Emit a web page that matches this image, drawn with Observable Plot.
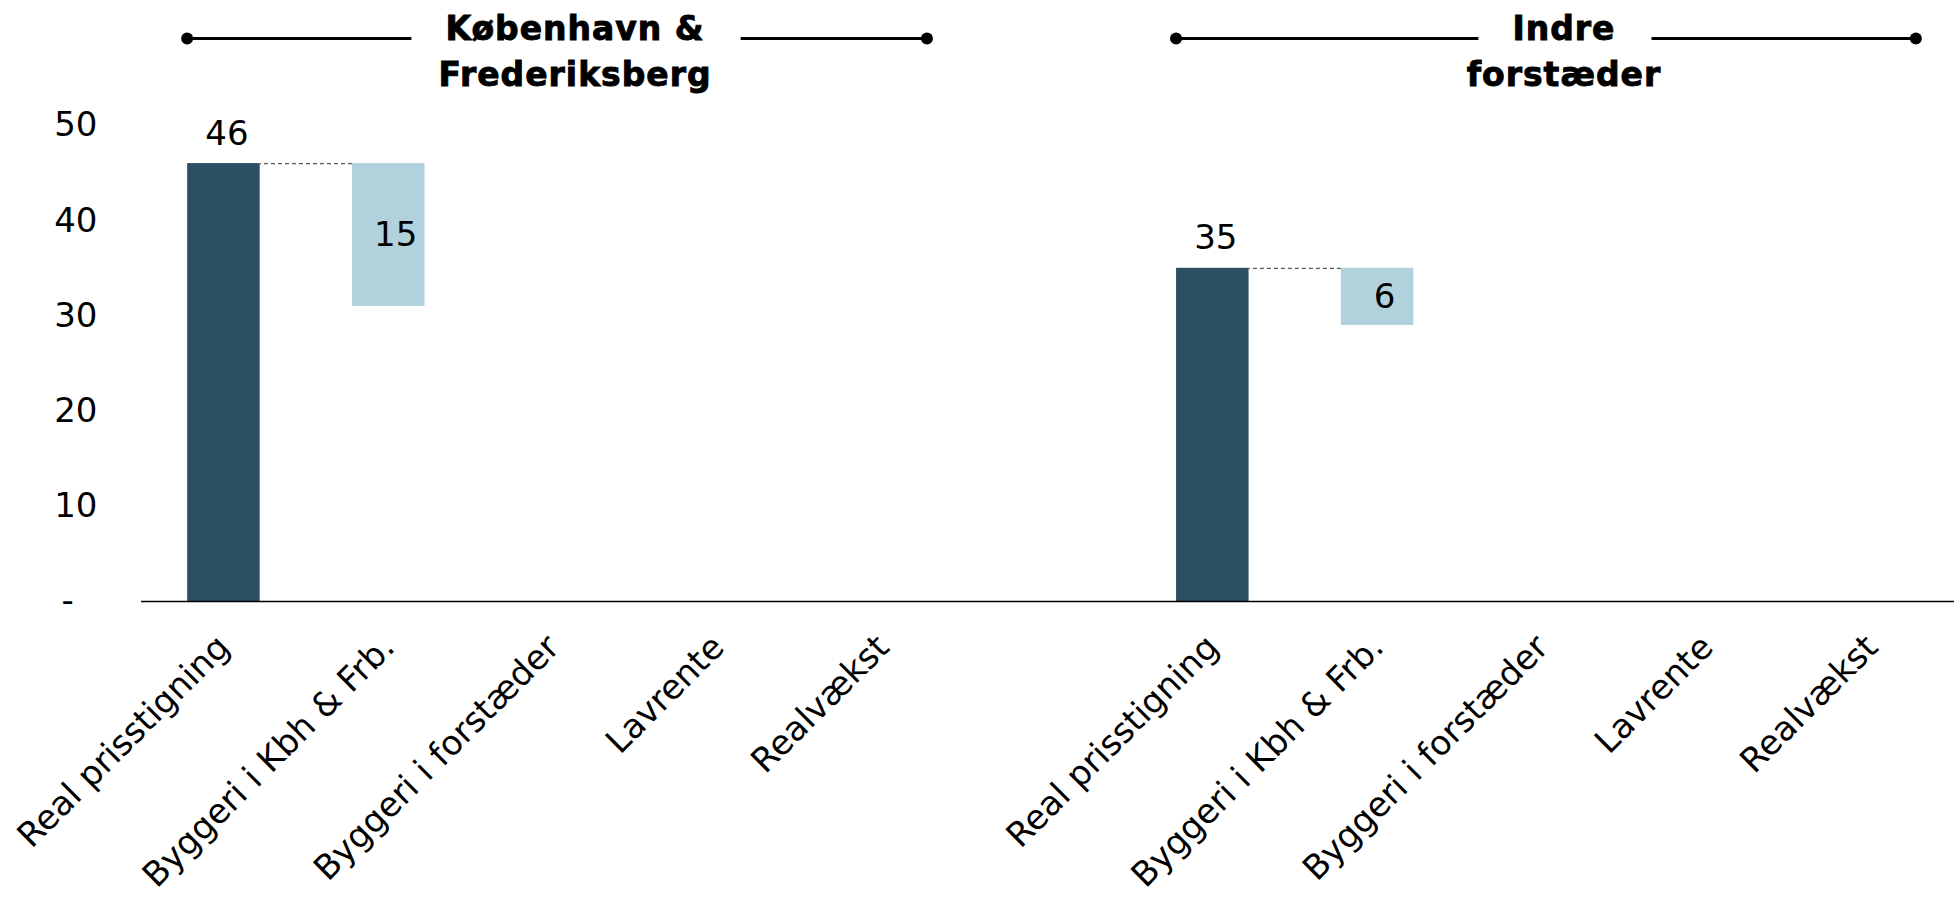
<!DOCTYPE html>
<html>
<head>
<meta charset="utf-8">
<script src="https://cdn.jsdelivr.net/npm/d3@7"></script>
<script src="https://cdn.jsdelivr.net/npm/@observablehq/plot@0.6"></script>
<style>
  html, body { margin: 0; padding: 0; background: #fff; }
  #chart svg { display: block; }
</style>
</head>
<body>
<div id="chart"></div>
<script>
// ---- Data ----
const groups = ["København &\nFrederiksberg", "Indre\nforstæder"];
const categories = ["Real prisstigning", "Byggeri i Kbh & Frb.", "Byggeri i forstæder", "Lavrente", "Realvækst"];
const kbhValues = [46, -15, null, null, null];
const indreValues = [35, -6, null, null, null];
const yTicks = [0, 10, 20, 30, 40, 50];

// ---- Build waterfall table ----
const DARK = "#2c4f64";
const LIGHT = "#b1d1dc";
const series = [kbhValues, indreValues];
const SPACER = "spacer";
const key = (gi, c) => `${gi}|${c}`;
const domain = [];
groups.forEach((g, gi) => {
  if (gi > 0) domain.push(SPACER + gi);
  categories.forEach(c => domain.push(key(gi, c)));
});

const rows = [];
const connectors = [];
series.forEach((vals, gi) => {
  let total = 0;
  let prev = null;
  vals.forEach((v, ci) => {
    if (v == null) return;
    const k = key(gi, categories[ci]);
    const isTotal = ci === 0;
    if (prev) connectors.push({from: prev, to: k, y: total});
    const y1 = isTotal ? 0 : total;
    const y2 = isTotal ? v : total + v;
    rows.push({key: k, y1, y2, type: isTotal ? "total" : "change", label: String(Math.abs(v))});
    total = isTotal ? v : total + v;
    prev = k;
  });
});

const FONT = "DejaVu Sans";

const chart = Plot.plot({
  width: 1954,
  height: 898,
  marginTop: 125,
  marginBottom: 297,
  marginLeft: 141,
  marginRight: 0,
  style: {fontFamily: FONT, fontSize: "34px", color: "#000", background: "#fff", overflow: "visible"},
  x: {domain, paddingInner: 0.56, paddingOuter: 0.28, round: false, label: null},
  y: {domain: [0, 50], label: null},
  color: {domain: ["total", "change"], range: [DARK, LIGHT]},
  marks: [
    Plot.barY(rows, {x: "key", y1: "y1", y2: "y2", fill: "type"}),
    Plot.ruleY(connectors, {y: "y", x1: "to", x2: "from", stroke: "#555", strokeWidth: 1.2, strokeDasharray: "4,3"}),
    Plot.text(rows.filter(d => d.type === "total"), {x: "key", y: "y2", text: "label", lineAnchor: "bottom", dy: -19, dx: 3, fontSize: 34, fill: "#000"}),
    Plot.text(rows.filter(d => d.type === "change"), {x: "key", y: d => (d.y1 + d.y2) / 2, text: "label", dx: 7, fontSize: 34, fill: "#000"}),
    Plot.ruleY([0], {stroke: "#000", strokeWidth: 1.5}),
    Plot.axisY({ticks: yTicks, tickSize: 0, tickPadding: 44, label: null, fontSize: 34,
      tickFormat: d => d === 0 ? "-\u2002\u2009" : String(d)}),
    Plot.axisX({tickRotate: -45, tickSize: 0, tickPadding: 40, label: null, fontSize: 34,
      tickFormat: d => d.startsWith(SPACER) ? "" : d.split("|")[1]})
  ]
});

document.getElementById("chart").append(chart);

// ---- Group headers (positioned with the plot's x scale) ----
const xs = chart.scale("x");
const svg = d3.select(chart);
const hg = svg.append("g").attr("class", "group-headers");
groups.forEach((g, gi) => {
  const left = xs.apply(key(gi, categories[0]));
  const right = xs.apply(key(gi, categories[categories.length - 1])) + xs.bandwidth + 8;
  const mid = xs.apply(key(gi, categories[2])) + xs.bandwidth / 2 + 22;
  const lineY = 38.5;
  const t = hg.append("text")
    .attr("text-anchor", "middle")
    .attr("font-family", FONT)
    .attr("font-weight", "bold")
    .attr("font-size", 33)
    .attr("letter-spacing", 1)
    .attr("fill", "#000")
    .attr("stroke", "#000")
    .attr("stroke-width", 0.9);
  const spans = g.split("\n").map((line, li) =>
    t.append("tspan").attr("x", mid).attr("y", 40 + li * 46).text(line));
  const bb = spans[0].node().getBBox();
  hg.append("line").attr("x1", left).attr("x2", bb.x - 34).attr("y1", lineY).attr("y2", lineY)
    .attr("stroke", "#000").attr("stroke-width", 3);
  hg.append("line").attr("x1", bb.x + bb.width + 36).attr("x2", right).attr("y1", lineY).attr("y2", lineY)
    .attr("stroke", "#000").attr("stroke-width", 3);
  hg.append("circle").attr("cx", left).attr("cy", lineY).attr("r", 6).attr("fill", "#000");
  hg.append("circle").attr("cx", right).attr("cy", lineY).attr("r", 6).attr("fill", "#000");
});
</script>
</body>
</html>
